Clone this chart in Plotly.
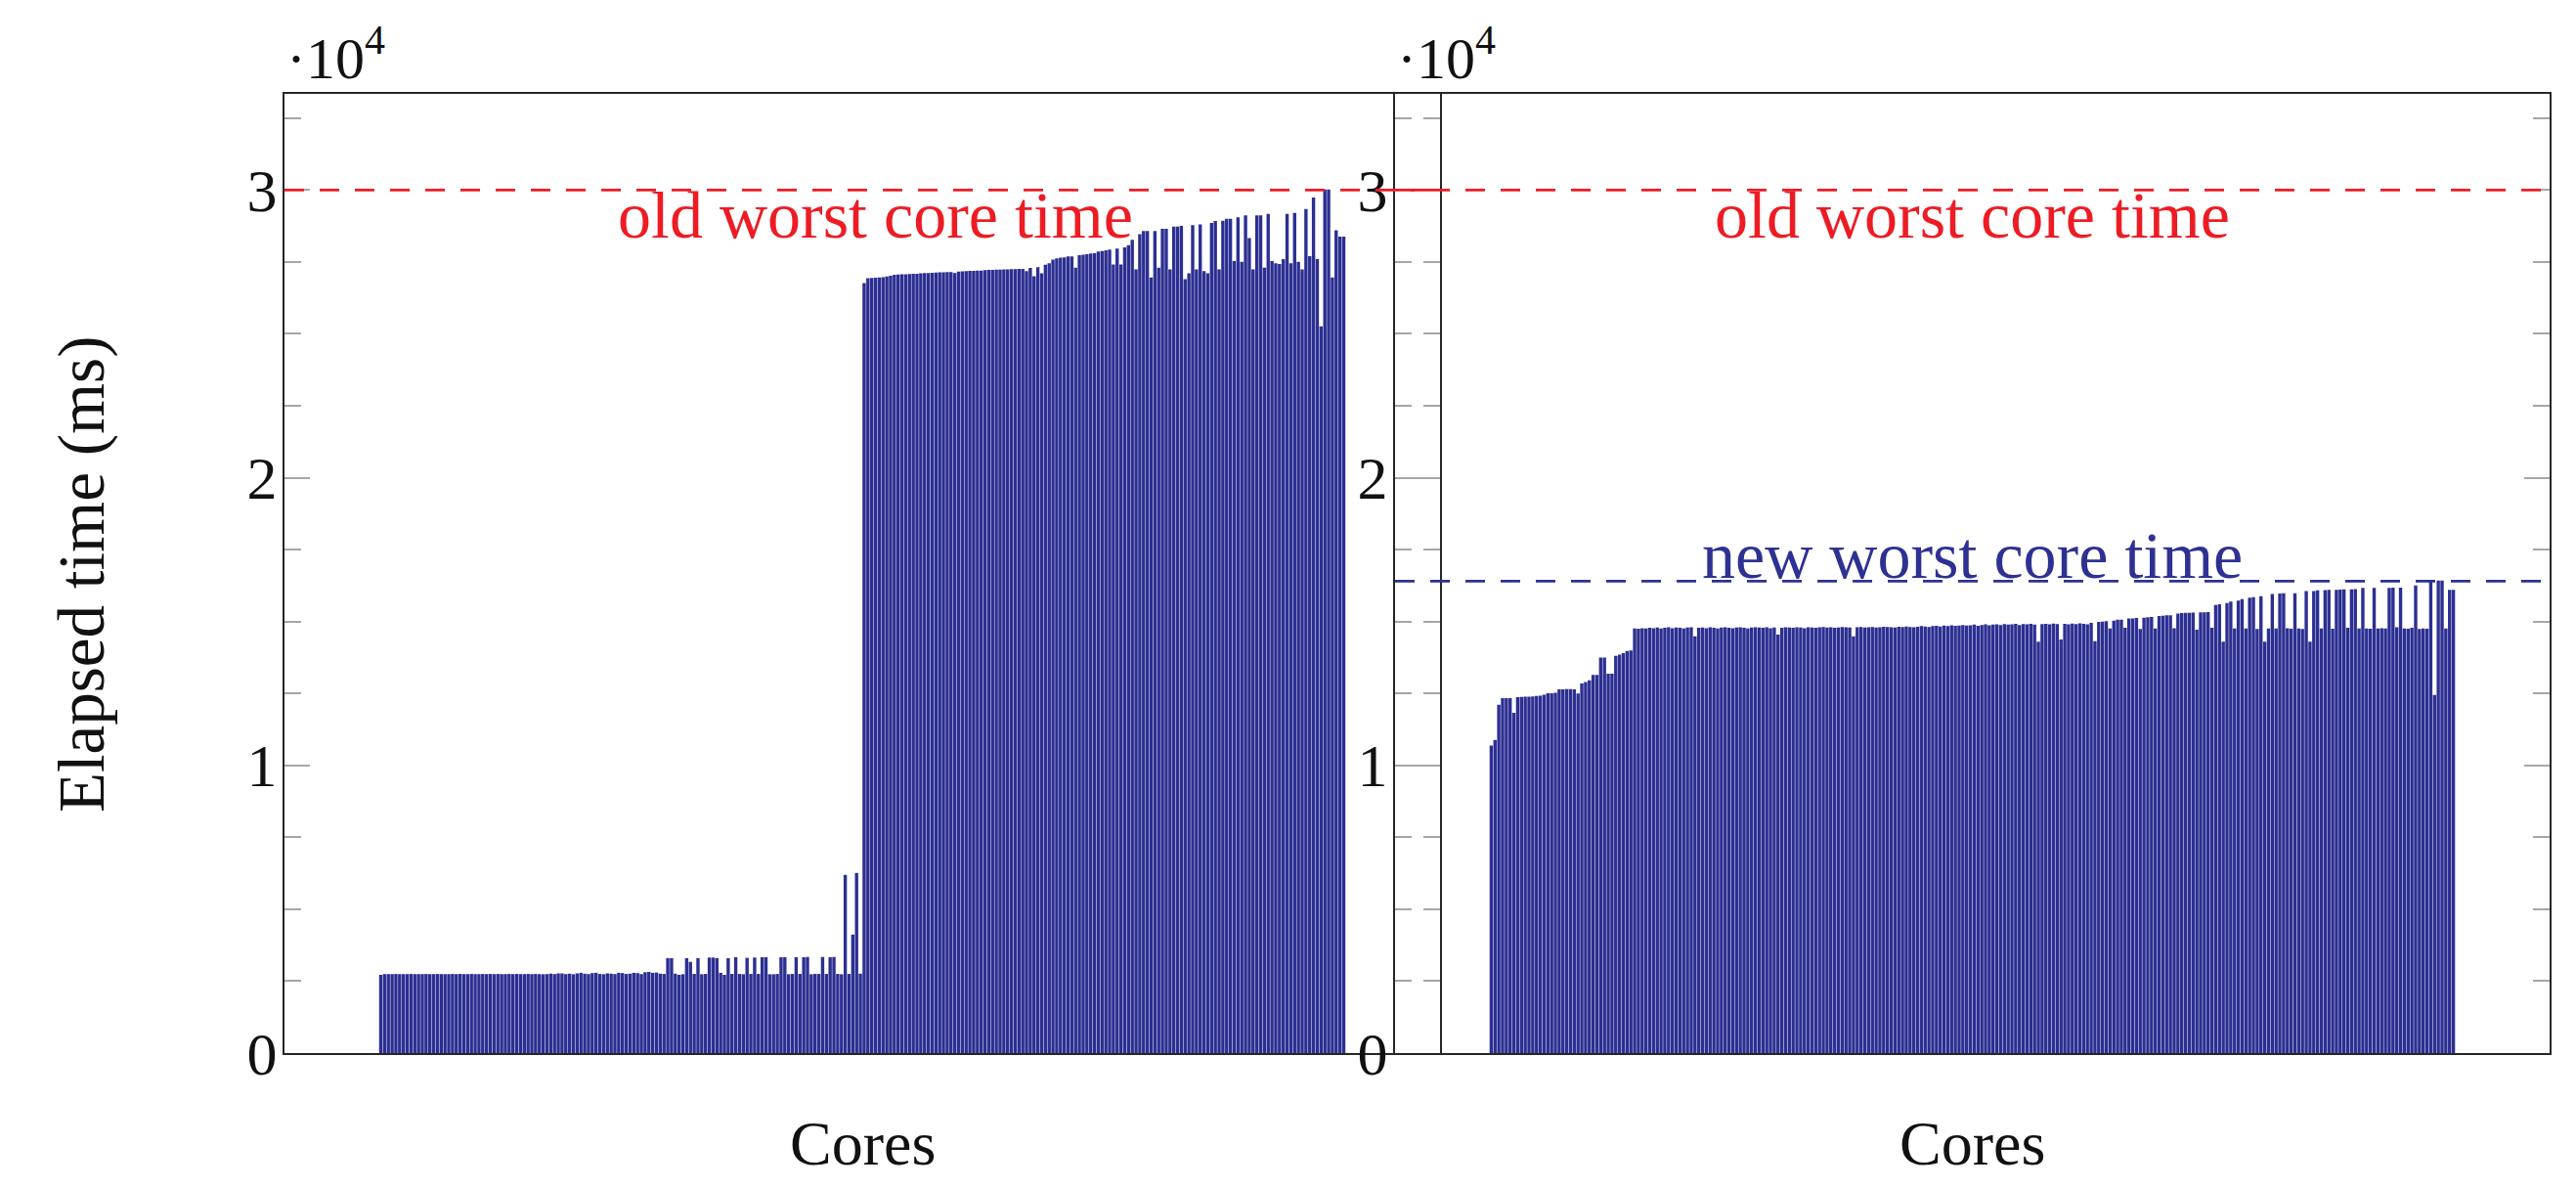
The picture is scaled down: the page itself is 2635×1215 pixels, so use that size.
import plotly.graph_objects as go

# ---------------- data ----------------
old_times = [
    # cores 1-40
    2720, 2745, 2745, 2745, 2750, 2745, 2745, 2745, 2750, 2745,
    2745, 2745, 2750, 2745, 2745, 2750, 2745, 2745, 2745, 2750,
    2745, 2750, 2745, 2745, 2750, 2745, 2745, 2750, 2745, 2750,
    2745, 2750, 2745, 2745, 2750, 2745, 2750, 2745, 2745, 2750,
    # 41-80
    2745, 2750, 2745, 2740, 2745, 2760, 2745, 2770, 2770, 2745,
    2760, 2740, 2770, 2790, 2760, 2745, 2780, 2790, 2750, 2740,
    2770, 2760, 2745, 2790, 2780, 2750, 2760, 2790, 2780, 2745,
    2810, 2820, 2790, 2800, 2760, 2750, 3300, 3300, 2760, 2720,
    # 81-120
    2740, 3300, 3170, 2750, 3300, 2740, 2750, 3320, 3320, 3300,
    2790, 2720, 3300, 2750, 3330, 2750, 2740, 3310, 2750, 3320,
    2750, 3330, 3330, 2740, 2740, 2750, 3330, 3330, 2740, 2750,
    3330, 2750, 3330, 3340, 2740, 2750, 2750, 3340, 2750, 3330,
    # 121-128
    3340, 2750, 2740, 6190, 2750, 4120, 6260, 2760,
    # 129-168
    26760, 26930, 26940, 26950, 26960, 26970, 26990, 27020, 27050, 27060,
    27070, 27070, 27080, 27090, 27090, 27100, 27110, 27110, 27120, 27130,
    27140, 27140, 27150, 27150, 27110, 27160, 27170, 27180, 27190, 27190,
    27200, 27200, 27210, 27220, 27220, 27230, 27230, 27240, 27240, 27250,
    # 169-208
    27250, 27260, 27260, 27180, 27290, 27000, 27320, 27100, 27400, 27450,
    27580, 27620, 27650, 27660, 27690, 27690, 27300, 27730, 27750, 27770,
    27790, 27800, 27860, 27880, 27900, 27930, 27410, 27960, 27410, 28000,
    28080, 28270, 27240, 28460, 28570, 28570, 26960, 28570, 27300, 28650,
    # 209-248
    28650, 27240, 28730, 28730, 28750, 26900, 27100, 28780, 27240, 28800,
    27180, 27100, 28850, 28920, 27240, 28930, 29000, 29000, 27530, 29050,
    27500, 29120, 28330, 27240, 29120, 29120, 27300, 29170, 27530, 27450,
    27430, 27600, 29170, 27450, 29200, 27500, 27240, 29340, 27700, 29740,
    # 249-256
    27600, 25260, 30020, 30020, 26960, 28600, 28380, 28380,
]

new_times = [
    # cores 1-38
    10690, 10880, 12110, 12340, 12340, 12340, 11830,
    12370, 12380, 12390, 12390, 12400, 12410, 12420, 12460, 12510, 12510,
    12520, 12640, 12640, 12650, 12650, 12640, 12500, 12850, 12900, 12960,
    13140, 13140, 13750, 13750, 13190, 13190, 13810, 13850, 13900, 13980,
    13990,
    # 39-161
    14760, 14750, 14770, 14760, 14780, 14770, 14790, 14760, 14780, 14800, 14770, 14790,
    14780, 14760, 14790, 14800, 14490, 14780, 14790, 14770, 14800, 14780,
    14760, 14790, 14800, 14780, 14770, 14790, 14800, 14780, 14760, 14790,
    14800, 14790, 14780, 14800, 14770, 14790, 14550, 14780, 14800, 14790,
    14780, 14800, 14790, 14770, 14800, 14790, 14780, 14800, 14810, 14790,
    14800, 14780, 14790, 14810, 14800, 14790, 14490, 14800, 14810, 14790,
    14800, 14810, 14790, 14800, 14820, 14810, 14800, 14790, 14820, 14810,
    14830, 14810, 14800, 14820, 14840, 14830, 14810, 14840, 14850, 14830,
    14860, 14840, 14870, 14850, 14860, 14880, 14860, 14870, 14890, 14850,
    14880, 14900, 14870, 14890, 14900, 14880, 14910, 14890, 14900, 14920,
    14880, 14910, 14900, 14920, 14890, 14300, 14910, 14920, 14900, 14930,
    14910, 14380, 14920, 14900, 14930, 14910, 14940, 14920, 14900, 14950,
    14320,
    # 162-256
    14990, 15000, 15010, 14760, 15030, 15060, 15060, 14780, 15110, 15110,
    15120, 14740, 15130, 15150, 15160, 14760, 15190, 15200, 15220, 15220,
    14770, 15280, 15290, 15300, 15300, 15310, 14720, 15320, 15320, 15330,
    14780, 15570, 15600, 14300, 15640, 15690, 14760, 15730, 15780, 14760,
    15830, 15850, 14740, 15880, 14300, 14760, 15960, 14760, 15970, 15980,
    14770, 14750, 15980, 14760, 14740, 16060, 14300, 16060, 16080, 14760,
    16090, 16100, 14750, 16100, 16110, 16120, 14780, 16120, 16130, 14760,
    16170, 14760, 14750, 16170, 14760, 14770, 14760, 16170, 16180, 14800,
    16180, 14760, 14750, 14780, 16250, 14740, 14760, 14750, 16400, 12450,
    16420, 16420, 14760, 16100, 16100,
]

cores_old = list(range(1, len(old_times) + 1))
cores_new = list(range(1, len(new_times) + 1))

old_worst = 30000
new_worst = 16400

y_tick_vals = [0, 10000, 20000, 30000]
y_tick_text = ["0", "1", "2", "3"]

x_label = "Cores"
y_label = "Elapsed time (ms)"
scale_label = "·10<sup>4</sup>"
old_label = "old worst core time"
new_label = "new worst core time"

# ---------------- styling ----------------
W, H = 2635, 1215          # browser window
OFF = 8                    # default body margin of the page
FW, FH = W - 2 * OFF, H - 2 * OFF


def px(sx):
    """screen x pixel -> paper fraction"""
    return (sx - OFF) / FW


def py(sy):
    """screen y pixel (from top) -> paper fraction (from bottom)"""
    return (FH - (sy - OFF)) / FH


FONT = "Liberation Serif"
BAR = "#2c2f91"
RED = "#ed1c24"
BLUE = "#2e3192"
AXIS = "#262626"
TICK = "#a6a6a6"

X_RANGE = [-24.5, 281.5]
Y_RANGE = [0, 33340]

left_dom = [px(291), px(1473)]
right_dom = [px(1427), px(2608)]
y_dom = [py(1077), py(96)]

fig = go.Figure()
fig.add_trace(go.Bar(x=cores_old, y=old_times, xaxis="x", yaxis="y",
                     marker=dict(color=BAR, line=dict(width=0)), showlegend=False))
fig.add_trace(go.Bar(x=cores_new, y=new_times, xaxis="x2", yaxis="y2",
                     marker=dict(color=BAR, line=dict(width=0)), showlegend=False))


def xax(dom, anchor):
    return dict(domain=dom, anchor=anchor, range=X_RANGE, showgrid=False, zeroline=False,
                showline=True, linecolor=AXIS, linewidth=2, mirror=True,
                ticks="", showticklabels=False)


def yax(anchor):
    return dict(domain=y_dom, anchor=anchor, range=Y_RANGE, showgrid=False, zeroline=False,
                showline=True, linecolor=AXIS, linewidth=2, mirror="ticks",
                ticks="inside", ticklen=26, tickwidth=2, tickcolor=TICK,
                tickvals=y_tick_vals, ticktext=y_tick_text, ticklabelstandoff=-7,
                tickfont=dict(family=FONT, size=62, color="#111"),
                minor=dict(dtick=2500, tick0=0, ticks="inside", ticklen=17,
                           tickwidth=2, tickcolor=TICK, showgrid=False))


fig.update_layout(
    width=FW, height=FH,
    margin=dict(l=0, r=0, t=0, b=0, pad=0, autoexpand=False),
    paper_bgcolor="white", plot_bgcolor="rgba(0,0,0,0)",
    bargap=0.12, showlegend=False,
    xaxis=xax(left_dom, "y"), yaxis=yax("x"),
    xaxis2=xax(right_dom, "y2"), yaxis2=yax("x2"),
    font=dict(family=FONT, color="#111"),
)

dash = "20px,16px"
for xr, yr in (("x domain", "y"), ("x2 domain", "y2")):
    fig.add_shape(type="line", xref=xr, yref=yr, x0=0, x1=1, y0=old_worst, y1=old_worst,
                  line=dict(color=RED, width=2.7, dash=dash), layer="above")
fig.add_shape(type="line", xref="x2 domain", yref="y2", x0=0, x1=1, y0=new_worst, y1=new_worst,
              line=dict(color=BLUE, width=2.7, dash=dash), layer="above")

ann = []
for xr, yr, dx in (("x domain", "y", 14), ("x2 domain", "y2", 0)):
    ann.append(dict(text=old_label, xref=xr, yref=yr, x=0.5, y=old_worst, xanchor="center",
                    yanchor="top", yshift=14, xshift=dx, showarrow=False,
                    font=dict(family=FONT, size=68, color=RED)))
ann.append(dict(text=new_label, xref="x2 domain", yref="y2", x=0.5, y=new_worst,
                xanchor="center", yanchor="bottom", yshift=-14, showarrow=False,
                font=dict(family=FONT, size=68, color=BLUE)))
for cx in ((291 + 1473) / 2, (1427 + 2608) / 2):
    ann.append(dict(text=x_label, xref="paper", yref="paper", x=px(cx), y=0,
                    xanchor="center", yanchor="bottom", showarrow=False,
                    font=dict(family=FONT, size=64, color="#111")))
ann.append(dict(text=y_label, xref="paper", yref="paper", x=px(83), y=py(588),
                xanchor="center", yanchor="middle", textangle=-90, showarrow=False,
                font=dict(family=FONT, size=67, color="#111")))
for lx in (291, 1427):
    ann.append(dict(text=scale_label, xref="paper", yref="paper", x=px(lx), y=py(55),
                    xanchor="left", yanchor="middle", showarrow=False,
                    font=dict(family=FONT, size=60, color="#111")))
fig.update_layout(annotations=ann)

fig.write_html("out.html")
